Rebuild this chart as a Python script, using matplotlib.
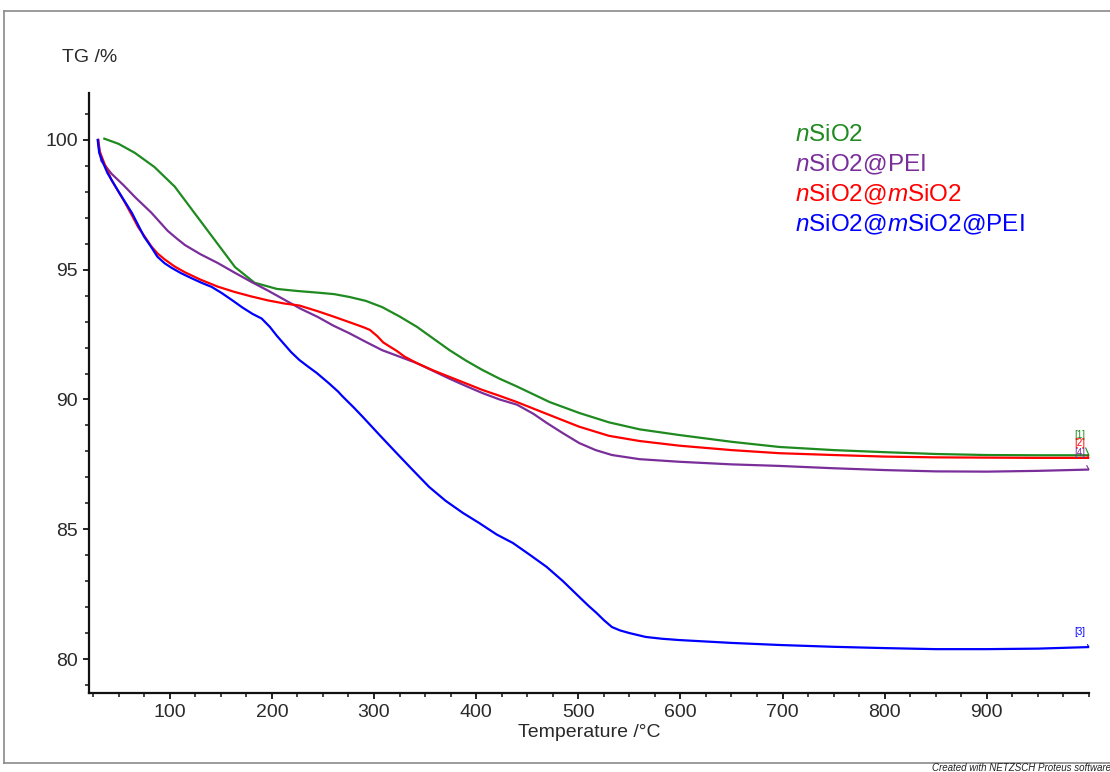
import matplotlib
matplotlib.use("Agg")
import matplotlib.pyplot as plt
from matplotlib.lines import Line2D
from matplotlib.ticker import MultipleLocator

plt.rcParams['font.family'] = ['Liberation Sans', 'DejaVu Sans']
plt.rcParams['mathtext.fontset'] = 'custom'
plt.rcParams['mathtext.rm'] = 'Liberation Sans'
plt.rcParams['mathtext.it'] = 'Liberation Sans:italic'

# nSiO2 (green)
t_green = [36, 50, 66, 85, 105, 124, 144, 164, 183, 205, 225, 244, 261, 276, 292, 308, 325,
           342, 358, 374, 390, 406, 423, 440, 456, 472, 501, 530, 560, 599, 650, 697, 750,
           800, 850, 900, 950, 1000]
tg_green = [100.05, 99.85, 99.5, 98.96, 98.2, 97.2, 96.15, 95.1, 94.5, 94.26, 94.18, 94.12,
            94.06, 93.95, 93.8, 93.56, 93.2, 92.8, 92.35, 91.9, 91.5, 91.14, 90.8, 90.5, 90.2,
            89.9, 89.48, 89.12, 88.85, 88.63, 88.37, 88.17, 88.05, 87.97, 87.9, 87.86, 87.85,
            87.85]

# nSiO2@PEI (purple)
t_purple = [30, 33, 38, 43, 55, 66, 74, 82, 90, 98, 107, 115, 130, 147, 163, 180, 196, 212,
            228, 245, 260, 276, 292, 308, 325, 342, 358, 374, 390, 406, 423, 440, 456, 469,
            485, 501, 517, 533, 560, 599, 650, 697, 750, 800, 850, 900, 950, 980, 1000]
tg_purple = [100, 99.2, 98.95, 98.7, 98.25, 97.8, 97.5, 97.2, 96.85, 96.5, 96.2, 95.95, 95.6,
             95.26, 94.9, 94.53, 94.2, 93.85, 93.5, 93.18, 92.85, 92.55, 92.22, 91.9, 91.65,
             91.4, 91.1, 90.8, 90.52, 90.25, 90.0, 89.8, 89.45, 89.1, 88.7, 88.32, 88.05,
             87.86, 87.7, 87.6, 87.5, 87.44, 87.35, 87.28, 87.23, 87.22, 87.25, 87.28, 87.3]

# nSiO2@mSiO2 (red)
t_red = [30, 31, 37, 43, 50, 56, 63, 69, 76, 82, 88, 95, 105, 115, 130, 147, 163, 180, 196,
         212, 227, 245, 260, 278, 290, 296, 303, 309, 315, 322, 330, 342, 358, 374, 390, 406,
         423, 440, 456, 472, 501, 530, 560, 599, 650, 697, 750, 800, 850, 900, 950, 1000]
tg_red = [100, 99.6, 99.0, 98.46, 98.0, 97.6, 97.1, 96.65, 96.25, 95.9, 95.63, 95.4, 95.12,
          94.9, 94.62, 94.35, 94.15, 93.97, 93.82, 93.7, 93.62, 93.4, 93.2, 92.95, 92.78,
          92.68, 92.45, 92.2, 92.05, 91.88, 91.65, 91.4, 91.12, 90.87, 90.62, 90.37, 90.14,
          89.9, 89.65, 89.4, 88.95, 88.6, 88.4, 88.22, 88.05, 87.93, 87.86, 87.8, 87.77,
          87.76, 87.75, 87.75]

# nSiO2@mSiO2@PEI (blue)
t_blue = [29.5, 31, 35, 39, 44, 49, 56, 63, 69, 75, 82, 88, 95, 102, 111, 121, 131, 141, 151,
          161, 171, 181, 190, 198, 205, 211, 219, 227, 235, 244, 256, 265, 268, 271, 280, 289,
          305, 322, 338, 354, 370, 387, 403, 420, 436, 452, 469, 485, 501, 510, 518, 525, 533,
          541, 550, 566, 582, 599, 650, 697, 750, 800, 850, 900, 950, 1000]
tg_blue = [100, 99.5, 99.1, 98.73, 98.4, 98.07, 97.63, 97.19, 96.73, 96.27, 95.87, 95.5, 95.25,
           95.07, 94.87, 94.68, 94.5, 94.34, 94.1, 93.83, 93.55, 93.3, 93.12, 92.8, 92.45,
           92.18, 91.82, 91.52, 91.28, 91.02, 90.62, 90.3, 90.17, 90.05, 89.7, 89.33, 88.65,
           87.94, 87.28, 86.63, 86.1, 85.63, 85.24, 84.8, 84.47, 84.03, 83.55, 83.0, 82.39,
           82.05, 81.77, 81.5, 81.23, 81.1, 81.0, 80.85, 80.78, 80.73, 80.62, 80.54, 80.47,
           80.42, 80.38, 80.38, 80.4, 80.46]

labels = [r'$\mathit{n}$SiO2', r'$\mathit{n}$SiO2@PEI',
          r'$\mathit{n}$SiO2@$\mathit{m}$SiO2', r'$\mathit{n}$SiO2@$\mathit{m}$SiO2@PEI']
colors = ['#1f8a1f', '#7a2e9a', '#ff0000', '#0000ff']

fig = plt.figure(figsize=(11.1, 7.72), dpi=100)
ax = fig.add_axes([89 / 1110, 79 / 772, 1000 / 1110, 600 / 772])

ax.plot(t_green, tg_green, color=colors[0], lw=1.6)
ax.plot(t_purple, tg_purple, color=colors[1], lw=1.6)
ax.plot(t_red, tg_red, color=colors[2], lw=1.6)
ax.plot(t_blue, tg_blue, color=colors[3], lw=1.6)

ax.set_xlim(21, 1000)
ax.set_ylim(78.69, 101.81)
ax.xaxis.set_major_locator(MultipleLocator(100))
ax.xaxis.set_minor_locator(MultipleLocator(25))
ax.yaxis.set_major_locator(MultipleLocator(5))
ax.yaxis.set_minor_locator(MultipleLocator(1))
ax.set_xticks([100, 200, 300, 400, 500, 600, 700, 800, 900])

for s in ['top', 'right']:
    ax.spines[s].set_visible(False)
for s in ['left', 'bottom']:
    ax.spines[s].set_linewidth(1.6)
    ax.spines[s].set_color('#111111')
ax.tick_params(which='major', length=4, width=1.3, labelsize=14, colors='#111111',
               labelcolor='#2a2a2a', pad=4)
ax.tick_params(which='minor', length=3, width=1.1, colors='#111111')

ax.set_xlabel('Temperature /°C', fontsize=14, color='#2a2a2a', labelpad=2)
fig.text(62 / 1110, 1 - 57 / 772, 'TG /%', fontsize=14, color='#2a2a2a', va='center')

# legend as coloured text
for i, (lab, c) in enumerate(zip(labels, colors)):
    ax.text(0.706, 0.93 - 0.05 * i, lab, transform=ax.transAxes, color=c,
            fontsize=17.5, va='center', ha='left')

# curve markers at the right end
marks = [('[1]', colors[0], 88.63, 87.85), ('[2]', colors[2], 88.32, 87.75),
         ('[4]', colors[1], 87.94, 87.3), ('[3]', colors[3], 81.04, 80.46)]
for txt, c, ylab, yend in marks:
    ax.annotate(txt, xy=(1000, yend), xytext=(991, ylab), color=c, fontsize=7,
                ha='center', va='center', annotation_clip=False,
                arrowprops=dict(arrowstyle='-', color=c, lw=0.8, shrinkA=4, shrinkB=0))

# page frame
fx0, fy_top, fy_bot = 4 / 1110, 1 - 11 / 772, 1 - 763 / 772
fig.add_artist(Line2D([fx0, 1], [fy_top, fy_top], color='#8a8a8a', lw=1.2))
fig.add_artist(Line2D([fx0, fx0], [fy_bot, fy_top], color='#8a8a8a', lw=1.2))
fig.add_artist(Line2D([fx0, 1], [fy_bot, fy_bot], color='#8a8a8a', lw=1.2))
fig.text(932 / 1110, 1 - 768 / 772, 'Created with NETZSCH Proteus software',
         fontsize=7, style='italic', color='#222222', va='center')

fig.savefig('out.png', dpi=100)
